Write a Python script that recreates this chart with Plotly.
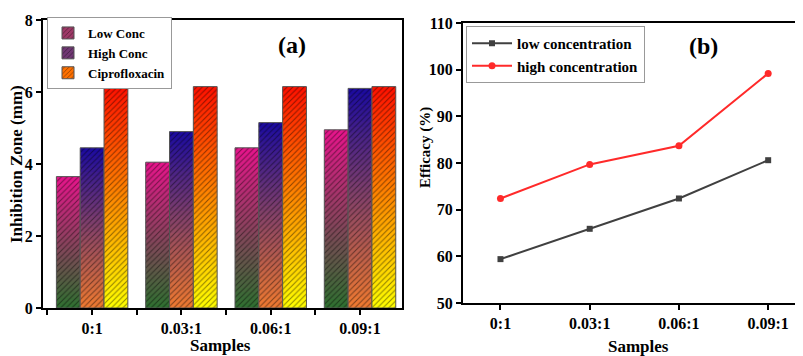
import plotly.graph_objects as go

# ---------------- data ----------------
categories = ["0:1", "0.03:1", "0.06:1", "0.09:1"]
low_conc = [3.65, 4.05, 4.45, 4.95]
high_conc = [4.45, 4.90, 5.15, 6.10]
ciprofloxacin = [6.15, 6.15, 6.15, 6.15]

eff_low = [59.4, 65.9, 72.4, 80.6]
eff_high = [72.4, 79.7, 83.7, 99.2]

yticks_a = [0, 2, 4, 6, 8]
yticks_b = [50, 60, 70, 80, 90, 100, 110]

# ---------------- style ----------------
FONT = "Liberation Serif"
W, H = 803, 356
OX, OY = 8, 8          # page body margin offset
N_SEG = 40

grad_low = [(0.0, (46, 112, 48)), (1.0, (232, 20, 140))]
grad_high = [(0.0, (240, 122, 48)), (1.0, (26, 10, 160))]
grad_cipro = [(0.0, (255, 255, 0)), (0.5, (255, 136, 0)), (1.0, (255, 16, 0))]


def color_at(stops, t):
    for (t0, c0), (t1, c1) in zip(stops[:-1], stops[1:]):
        if t <= t1:
            f = (t - t0) / (t1 - t0)
            c = [round(a + (b - a) * f) for a, b in zip(c0, c1)]
            return f"rgb({c[0]},{c[1]},{c[2]})"
    c = stops[-1][1]
    return f"rgb({c[0]},{c[1]},{c[2]})"


def px(x):
    return (x - OX) / W


def py(y):
    return 1 - (y - OY) / H


xpos = list(range(len(categories)))
fig = go.Figure()

bar_w = 0.2667
series = [
    ("Low Conc", low_conc, grad_low, -0.4),
    ("High Conc", high_conc, grad_high, -0.4 + bar_w),
    ("Ciprofloxacin", ciprofloxacin, grad_cipro, -0.4 + 2 * bar_w),
]

for name, vals, stops, off in series:
    # gradient made of stacked slices
    for i in range(N_SEG):
        base = [v * i / N_SEG for v in vals]
        top = [min(v * (i + 1.6) / N_SEG, v) for v in vals]
        fig.add_trace(go.Bar(
            x=xpos, y=[t - b for t, b in zip(top, base)], base=base,
            offset=off, width=bar_w,
            marker=dict(color=color_at(stops, (i + 0.5) / N_SEG), line=dict(width=0)),
            showlegend=False, hoverinfo="skip", xaxis="x", yaxis="y",
        ))
    # hatch + outline
    fig.add_trace(go.Bar(
        x=xpos, y=vals, offset=off, width=bar_w,
        marker=dict(color="rgba(0,0,0,0)",
                    line=dict(color="#555555", width=1),
                    pattern=dict(shape="/", fgcolor="#000000", fgopacity=0.45,
                                 size=4, solidity=0.25)),
        showlegend=False, xaxis="x", yaxis="y", name=name,
    ))
    # legend entry
    fig.add_trace(go.Bar(
        x=[None], y=[None], name=name,
        marker=dict(color=color_at(stops, 0.6),
                    line=dict(color="#555555", width=1),
                    pattern=dict(shape="/", fgcolor="#000000", fgopacity=0.45,
                                 size=4, solidity=0.25, bgcolor=color_at(stops, 0.6),
                                 fillmode="overlay")),
        xaxis="x", yaxis="y", legend="legend",
    ))

fig.add_trace(go.Scatter(
    x=xpos, y=eff_low, name="low concentration", mode="lines+markers",
    line=dict(color="#404040", width=2),
    marker=dict(symbol="square", size=6, color="#404040"),
    xaxis="x2", yaxis="y2", legend="legend2",
))
fig.add_trace(go.Scatter(
    x=xpos, y=eff_high, name="high concentration", mode="lines+markers",
    line=dict(color="#ff2a2a", width=2),
    marker=dict(symbol="circle", size=7, color="#ff2a2a"),
    xaxis="x2", yaxis="y2", legend="legend2",
))

axis_common = dict(showline=True, linewidth=2, linecolor="black", mirror=True,
                   ticks="outside", ticklen=5, tickwidth=2, tickcolor="black",
                   showgrid=False, zeroline=False, automargin=False,
                   tickfont=dict(family=FONT, size=16, color="black", weight="bold"))

fig.update_layout(
    width=W, height=H, margin=dict(l=0, r=0, t=0, b=0, autoexpand=False),
    paper_bgcolor="white", plot_bgcolor="white",
    font=dict(family=FONT, size=14, color="black", weight="bold"),
    barmode="overlay",
    xaxis=dict(domain=[px(43), px(402)], range=[-0.55, 3.47],
               tickvals=xpos, ticktext=categories,
               minor=dict(ticks="outside", tick0=0.5, dtick=1, ticklen=5,
                          tickwidth=2, tickcolor="black"),
               anchor="y", **axis_common),
    yaxis=dict(domain=[py(308), py(20)], range=[0, 8], tickvals=yticks_a,
               anchor="x", **axis_common),
    xaxis2=dict(domain=[px(463), 1.0], range=[-0.42, 3.48],
                tickvals=xpos, ticktext=categories, anchor="y2", **axis_common),
    yaxis2=dict(domain=[py(303), py(23)], range=[50, 110], tickvals=yticks_b,
                anchor="x2", **axis_common),
    legend=dict(x=px(47), y=py(17), xanchor="left", yanchor="top",
                bgcolor="white", bordercolor="#999999", borderwidth=1,
                font=dict(family=FONT, size=13, color="black", weight="bold"),
                itemwidth=30, tracegroupgap=0),
    legend2=dict(x=px(466), y=py(26), xanchor="left", yanchor="top",
                 bgcolor="white", bordercolor="#999999", borderwidth=1,
                 font=dict(family=FONT, size=15, color="black", weight="bold"),
                 itemwidth=40, tracegroupgap=0),
    annotations=[
        dict(text="Inhibition Zone (mm)", x=px(16), y=py(164), xref="paper", yref="paper",
             xanchor="center", yanchor="middle",
             textangle=-90, showarrow=False, font=dict(size=17)),
        dict(text="Samples", x=px(220), y=py(345), xref="paper", yref="paper",
             xanchor="center", yanchor="middle",
             showarrow=False, font=dict(size=17)),
        dict(text="Efficacy (%)", x=px(425), y=py(148), xref="paper", yref="paper",
             xanchor="center", yanchor="middle",
             textangle=-90, showarrow=False, font=dict(size=15)),
        dict(text="Samples", x=px(638), y=py(346), xref="paper", yref="paper",
             xanchor="center", yanchor="middle",
             showarrow=False, font=dict(size=17)),
        dict(text="(a)", x=px(292), y=py(45), xref="paper", yref="paper",
             xanchor="center", yanchor="middle",
             showarrow=False, font=dict(size=24)),
        dict(text="(b)", x=px(703), y=py(46), xref="paper", yref="paper",
             xanchor="center", yanchor="middle",
             showarrow=False, font=dict(size=24)),
    ],
)

fig.write_html("out.html")
